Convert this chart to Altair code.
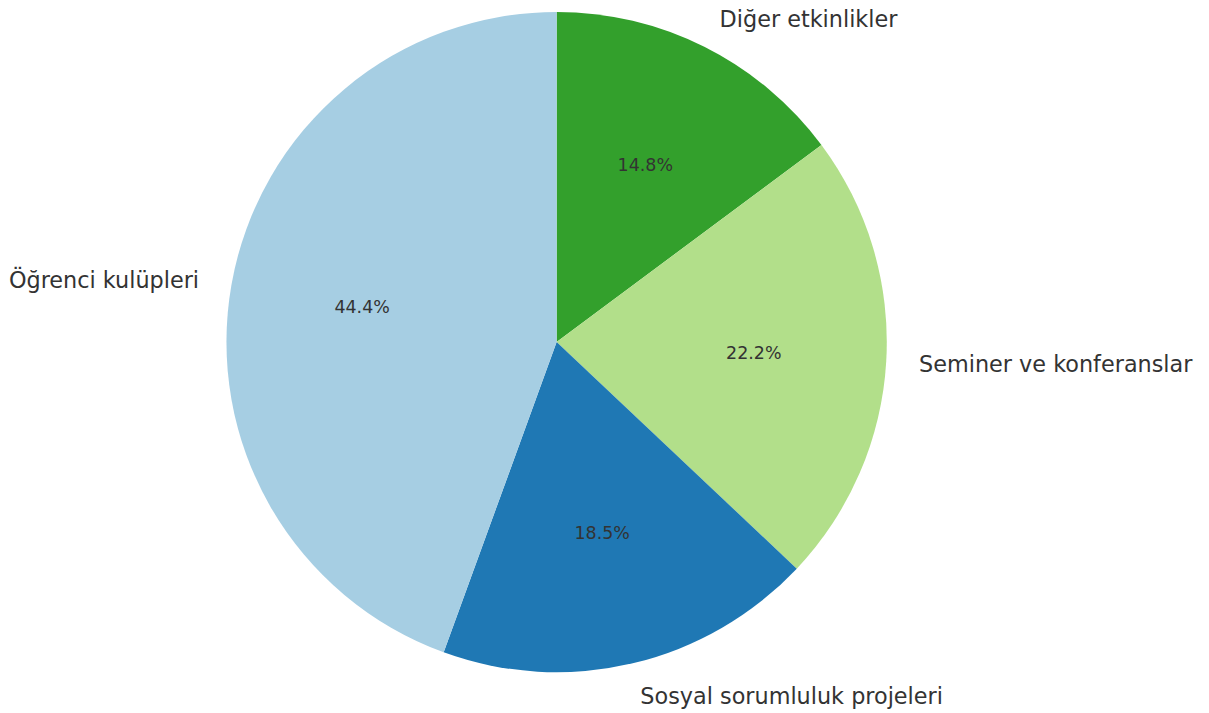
import altair as alt
import pandas as pd

# clockwise order from the top (matches matplotlib counter-clockwise from 90°)
categories = ["Diğer etkinlikler", "Seminer ve konferanslar", "Sosyal sorumluluk projeleri", "Öğrenci kulüpleri"]
values = [4, 6, 5, 12]
percent_labels = ["14.8%", "22.2%", "18.5%", "44.4%"]
colors = ["#33a02c", "#b2df8a", "#1f78b4", "#a6cee3"]
sides = ["right", "right", "right", "left"]

df = pd.DataFrame({
    "category": categories,
    "value": values,
    "pct": percent_labels,
    "side": sides,
    "order": list(range(len(categories))),
})

TAU = 6.283185307179586
theta_scale = alt.Scale(domain=[0, 1], range=[0, TAU])

base = alt.Chart(df).transform_window(
    cum="sum(value)", sort=[alt.SortField("order", order="ascending")],
    frame=[None, 0],
).transform_joinaggregate(
    total="sum(value)"
).transform_calculate(
    endfrac="datum.cum / datum.total",
    startfrac="(datum.cum - datum.value) / datum.total",
    midfrac="(datum.cum - datum.value / 2) / datum.total",
)

pie = base.mark_arc(outerRadius=331, stroke=None).encode(
    theta=alt.Theta("startfrac:Q", stack=None, scale=theta_scale),
    theta2="endfrac:Q",
    color=alt.Color("category:N", scale=alt.Scale(domain=categories, range=colors), legend=None),
)

mid = base.encode(
    theta=alt.Theta("midfrac:Q", stack=None, scale=theta_scale),
)

pct = mid.mark_text(radius=198, font="DejaVu Sans", fontSize=17.5, color="#333333",
                    align="center", baseline="middle").encode(text="pct:N")

lab_r = mid.mark_text(radius=364, dy=2, font="DejaVu Sans", fontSize=22.4, color="#333333",
                      align="left", baseline="middle").encode(text="category:N").transform_filter(
    alt.datum.side == "right")
lab_l = mid.mark_text(radius=364, dy=2, font="DejaVu Sans", fontSize=22.4, color="#333333",
                      align="right", baseline="middle").encode(text="category:N").transform_filter(
    alt.datum.side == "left")

chart = alt.layer(pie, pct, lab_r, lab_l).properties(
    width=1076, height=648,
    autosize=alt.AutoSizeParams(type="none"),
    padding={"left": 12, "top": 10, "right": 108, "bottom": 50},
).configure_view(stroke=None)

chart.save("out.html", embed_options={"renderer": "svg", "actions": False})
